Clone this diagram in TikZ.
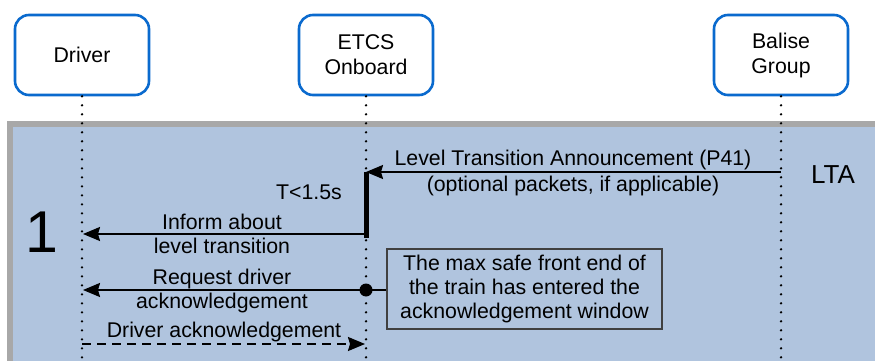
\documentclass[tikz,border=0pt]{standalone}
\usepackage{fontspec}
\setmainfont{Liberation Sans}
\usetikzlibrary{arrows.meta}
\definecolor{boxblue}{RGB}{10,106,206}
\definecolor{bandfill}{RGB}{176,196,222}
\definecolor{bandgray}{RGB}{168,168,168}
\definecolor{notegray}{RGB}{64,64,64}
\begin{document}
\begin{tikzpicture}[x=1pt,y=-1pt,
  actor/.style={draw=boxblue, line width=2.6pt, rounded corners=14pt, fill=white,
    minimum width=134pt, minimum height=80pt, align=center,
    font=\fontsize{21.3}{25}\selectfont, inner sep=0pt},
  lbl/.style={anchor=base, font=\fontsize{21.3}{25}\selectfont, inner sep=0pt},
  life/.style={line width=2.6pt, line cap=round, dash pattern=on 0pt off 9pt},
  msg/.style={line width=2pt, -{Stealth[length=17pt,width=14pt,inset=2pt]}},
  notebox/.style={draw=notegray, line width=1.3pt, minimum width=275pt,
    minimum height=80pt, align=center, font=\fontsize{21.3}{24}\selectfont, inner sep=0pt},
]
\useasboundingbox (0,0) rectangle (875,361);
\begin{scope}
  \clip (0,0) rectangle (875,361);
  \fill[bandgray] (7,121) rectangle (880,370);
  \fill[bandfill] (13,127) rectangle (880,370);
\end{scope}

% actors
\node[actor] (drv) at (82,55) {Driver};
\node[actor] (etcs) at (366,55) {ETCS\\Onboard};
\node[actor] (bal) at (781,55) {Balise\\Group};

% lifelines
\coordinate (drvEnd) at (82,361);
\coordinate (etcsEnd) at (366,361);
\coordinate (balEnd) at (781,361);
\draw[life] (drv.south) -- (drvEnd);
\draw[life] (etcs.south) -- (etcsEnd);
\draw[life] (bal.south) -- (balEnd);

% LTA message
\coordinate (balLTA) at (781,172);
\coordinate (etcsLTA) at (366,172);
\draw[msg] (balLTA) -- (etcsLTA);
\node[lbl] (ltaTop) at (573,165) {Level Transition Announcement (P41)};
\node[lbl] (ltaBot) at (573,191) {(optional packets, if applicable)};
\node[lbl, font=\fontsize{26}{30}\selectfont] (ltaTag) at (833,183) {LTA};

% activation bar
\coordinate (barEnd) at (366,238);
\draw[line width=5pt] (etcsLTA) -- (barEnd);
\node[lbl] (tlim) at (309,199) {T<1.5s};

% step number
\node[anchor=base, inner sep=0pt, font=\fontsize{59}{60}\selectfont] (one) at (42,252) {1};

% inform
\coordinate (etcsInf) at (366,234);
\coordinate (drvInf) at (83,234);
\draw[msg] (etcsInf) -- (drvInf);
\node[lbl] (infTop) at (222,229) {Inform about};
\node[lbl] (infBot) at (222,253) {level transition};

% request
\node[circle, fill=black, inner sep=0pt, minimum size=13pt] (dot) at (366,290) {};
\coordinate (drvReq) at (83,290);
\draw[msg] (dot.center) -- (drvReq);
\node[lbl] (reqTop) at (222,284) {Request driver};
\node[lbl] (reqBot) at (222,308) {acknowledgement};

% note
\node[notebox] (note) at (524.5,289) {The max safe front end of\\the train has entered the\\acknowledgement window};
\draw[line width=1.5pt] (dot.center) -- (note.west |- dot.center);

% driver ack
\coordinate (drvAck) at (82,344);
\coordinate (etcsAck) at (365,344);
\draw[msg, dash pattern=on 9pt off 6pt] (drvAck) -- (etcsAck);
\node[lbl] (ackLbl) at (224,337) {Driver acknowledgement};
\end{tikzpicture}
\end{document}
